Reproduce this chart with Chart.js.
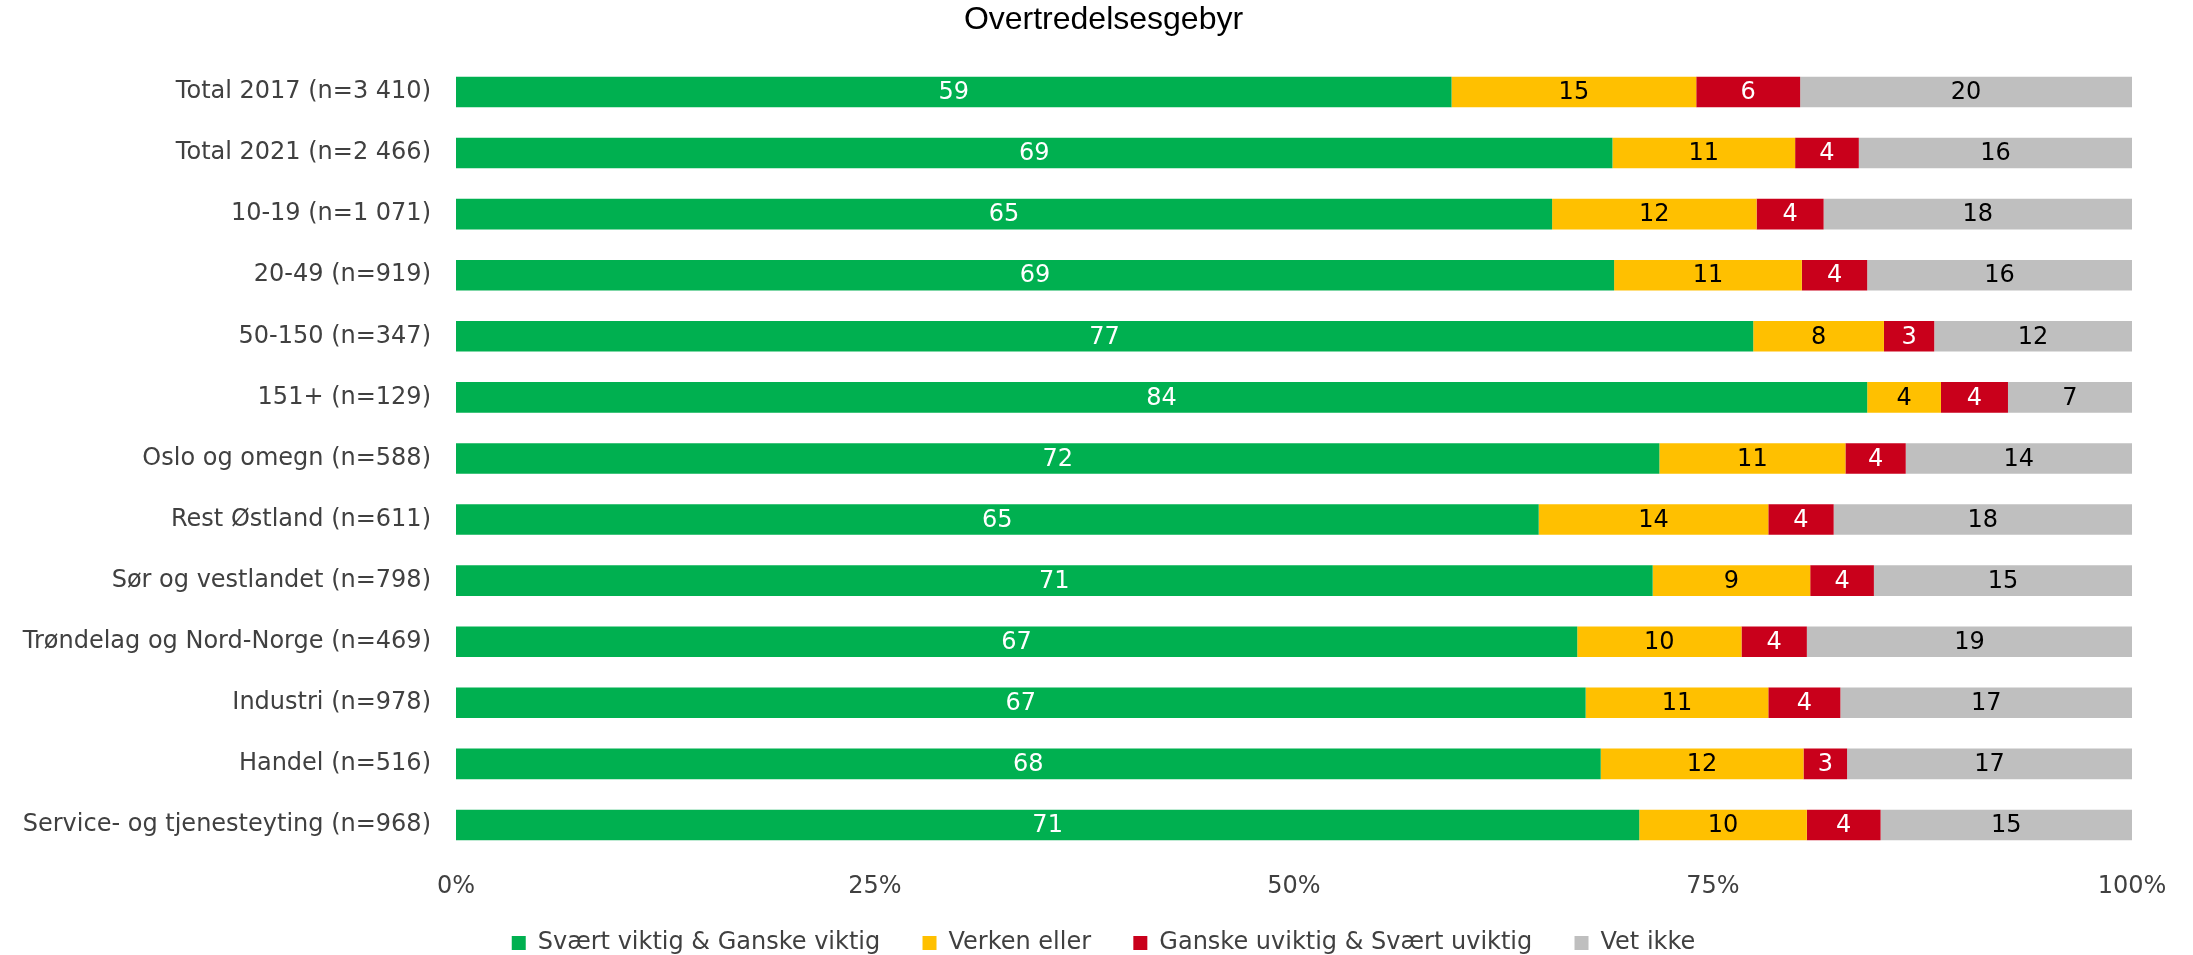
<!DOCTYPE html>
<html>
<head>
<meta charset="utf-8">
<title>Overtredelsesgebyr</title>
<script src="https://cdn.jsdelivr.net/npm/chart.js@4.4.1/dist/chart.umd.min.js"></script>
<style>
  html, body { margin: 0; padding: 0; background: #fff; }
  canvas { display: block; }
</style>
</head>
<body>
<canvas id="chart" width="2193" height="955"></canvas>
<script>
const categories = [
    'Total 2017 (n=3 410)',
    'Total 2021 (n=2 466)',
    '10-19 (n=1 071)',
    '20-49 (n=919)',
    '50-150 (n=347)',
    '151+ (n=129)',
    'Oslo og omegn (n=588)',
    'Rest Østland (n=611)',
    'Sør og vestlandet (n=798)',
    'Trøndelag og Nord-Norge (n=469)',
    'Industri (n=978)',
    'Handel (n=516)',
    'Service- og tjenesteyting (n=968)'
];

// percentages per answer group
const viktig   = [59.4, 69.0, 65.4, 69.1, 77.4, 84.2, 71.8, 64.6, 71.4, 66.9, 67.4, 68.3, 70.6];
const verken   = [14.6, 10.9, 12.2, 11.2,  7.8,  4.4, 11.1, 13.7,  9.4,  9.8, 10.9, 12.1, 10.0];
const uviktig  = [ 6.2,  3.8,  4.0,  3.9,  3.0,  4.0,  3.6,  3.9,  3.8,  3.9,  4.3,  2.6,  4.4];
const vetIkke  = [19.8, 16.3, 18.4, 15.8, 11.8,  7.4, 13.5, 17.8, 15.4, 19.4, 17.4, 17.0, 15.0];

const seriesNames = ['Svært viktig & Ganske viktig', 'Verken eller', 'Ganske uviktig & Svært uviktig', 'Vet ikke'];
const xTicks = [0, 25, 50, 75, 100];

const labelFont = "'DejaVu Sans', Verdana, sans-serif";

// draws the rounded value in the middle of each segment
const segmentLabels = {
    id: 'segmentLabels',
    afterDatasetsDraw(chart) {
        const ctx = chart.ctx;
        ctx.save();
        ctx.font = '24px ' + labelFont;
        ctx.textAlign = 'center';
        ctx.textBaseline = 'middle';
        chart.data.datasets.forEach((ds, i) => {
            const meta = chart.getDatasetMeta(i);
            meta.data.forEach((bar, j) => {
                const v = ds.data[j];
                if (!v) return;
                ctx.fillStyle = ds.labelColor;
                ctx.fillText(Math.round(v), (bar.x + bar.base) / 2, bar.y + 1);
            });
        });
        ctx.restore();
    }
};

const ctx = document.getElementById('chart').getContext('2d');
new Chart(ctx, {
    type: 'bar',
    data: {
        labels: categories,
        datasets: [
            { label: seriesNames[0], data: viktig,  backgroundColor: '#00B050', labelColor: '#ffffff' },
            { label: seriesNames[1], data: verken,  backgroundColor: '#FFC000', labelColor: '#000000' },
            { label: seriesNames[2], data: uviktig, backgroundColor: '#C9001B', labelColor: '#ffffff' },
            { label: seriesNames[3], data: vetIkke, backgroundColor: '#BFBFBF', labelColor: '#000000' }
        ]
    },
    options: {
        indexAxis: 'y',
        responsive: false,
        animation: false,
        devicePixelRatio: 1,
        datasets: {
            bar: { barPercentage: 0.5, categoryPercentage: 1, borderWidth: 0 }
        },
        layout: { padding: { left: 14, right: 0, top: 0, bottom: 0 } },
        scales: {
            x: {
                stacked: true,
                min: 0,
                max: 100,
                afterBuildTicks(scale) {
                    scale.ticks = xTicks.map(v => ({ value: v }));
                },
                grid: { display: false, drawTicks: false },
                border: { display: false },
                ticks: {
                    padding: 17,
                    color: '#404040',
                    font: { family: labelFont, size: 24 },
                    callback: v => v + '%'
                },
                afterFit(scale) { scale.height = 48.5; }
            },
            y: {
                stacked: true,
                grid: { display: false, drawTicks: false },
                border: { display: false },
                ticks: {
                    padding: 25,
                    color: '#404040',
                    autoSkip: false,
                    font: { family: labelFont, size: 24 }
                },
                afterFit(scale) { scale.width = 442; }
            },
            // empty axis on the right, keeps the plot off the right edge
            yRight: {
                axis: 'y',
                type: 'category',
                position: 'right',
                grid: { display: false, drawTicks: false },
                border: { display: false },
                ticks: { display: false },
                afterFit(scale) { scale.width = 61; }
            }
        },
        plugins: {
            title: {
                display: true,
                text: 'Overtredelsesgebyr',
                color: '#000000',
                font: { family: "'Liberation Sans', Arial, sans-serif", size: 32, weight: 'normal' },
                padding: { top: 1, bottom: 22 }
            },
            legend: {
                position: 'bottom',
                maxHeight: 51,
                labels: {
                    boxWidth: 14,
                    boxHeight: 14,
                    padding: 27,
                    color: '#404040',
                    font: { family: labelFont, size: 24 },
                    generateLabels(chart) {
                        const items = Chart.defaults.plugins.legend.labels.generateLabels(chart);
                        // wider gap between legend entries
                        items.forEach((it, i) => { if (i < items.length - 1) it.text += '  '; });
                        return items;
                    }
                }
            },
            tooltip: { enabled: false }
        }
    },
    plugins: [segmentLabels]
});
</script>
</body>
</html>
